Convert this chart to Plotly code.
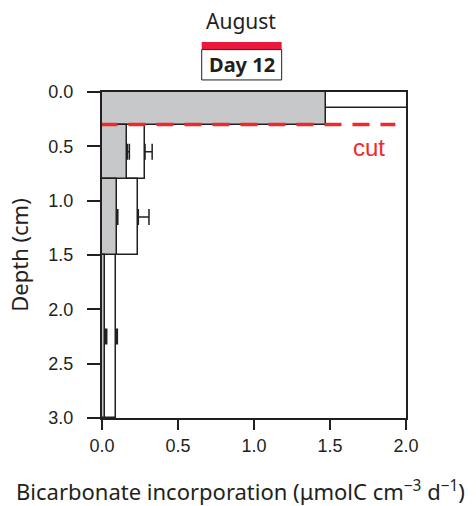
import numpy as np
import plotly.graph_objects as go

# ---- data ----
grey_top = [0.0, 0.3, 0.8, 1.5]
grey_bottom = [0.3, 0.8, 1.5, 3.0]
grey_values = [1.475, 0.167, 0.097, 0.022]
grey_err = [None, 0.013, 0.007, 0.009]

white_top = [0.0, 0.3, 0.8, 1.5]
white_bottom = [0.15, 0.8, 1.5, 3.0]
white_values = [2.1, 0.283, 0.239, 0.092]
white_err = [None, 0.047, 0.07, 0.009]

cut_depth = 0.3
x_ticks = [0.0, 0.5, 1.0, 1.5, 2.0]
y_ticks = [0.0, 0.5, 1.0, 1.5, 2.0, 2.5, 3.0]

month_label = "August"
day_label = "Day 12"
x_title = "Bicarbonate incorporation (μmolC cm<sup>−3</sup> d<sup>−1</sup>)"
y_title = "Depth (cm)"

DARK = "#231f20"
GREY = "#c7c8ca"
RED = "#ee2a2a"
CAL_RED = "#e8193c"


def centers(top, bottom):
    t = np.array(top); b = np.array(bottom)
    return (t + b) / 2, (b - t)


wc, ww = centers(white_top, white_bottom)
gc, gw = centers(grey_top, grey_bottom)

fig = go.Figure()


def add_series(values, c, w, err, fill):
    fig.add_trace(go.Bar(
        x=values, y=c, width=w, orientation="h",
        marker=dict(color=fill, line=dict(color=DARK, width=1.5)),
        showlegend=False, hoverinfo="skip",
    ))
    idx = [i for i, e in enumerate(err) if e is not None]
    fig.add_trace(go.Scatter(
        x=[values[i] for i in idx], y=[c[i] for i in idx], mode="markers",
        marker=dict(size=1, opacity=0),
        error_x=dict(type="data", array=[err[i] for i in idx], arrayminus=[0] * len(idx),
                     symmetric=False, color=DARK, thickness=1.5, width=8),
        showlegend=False, hoverinfo="skip",
    ))


add_series(white_values, wc, ww, white_err, "white")
add_series(grey_values, gc, gw, grey_err, GREY)

# cut line
fig.add_shape(type="line", xref="x", yref="y", x0=-0.01, x1=1.93, y0=cut_depth, y1=cut_depth,
              line=dict(color=RED, width=3.5, dash="17px,11px"))
fig.add_annotation(x=1.757, y=0.51, xref="x", yref="y", text="cut", showarrow=False,
                   font=dict(family="Liberation Sans, Arial", size=24, color=RED),
                   xanchor="center", yanchor="middle")

# header calendar
fig.add_annotation(x=0.457, y=1.218, xref="paper", yref="paper", text=month_label, showarrow=False,
                   font=dict(family="Noto Sans", size=21, color=DARK), xanchor="center", yanchor="middle")
fig.add_shape(type="rect", xref="paper", yref="paper", x0=0.328, x1=0.591, y0=1.130, y1=1.153,
              fillcolor=CAL_RED, line=dict(color=CAL_RED, width=0))
fig.add_shape(type="rect", xref="paper", yref="paper", x0=0.328, x1=0.591, y0=1.037, y1=1.130,
              fillcolor="white", line=dict(color=DARK, width=1))
fig.add_annotation(x=0.46, y=1.084, xref="paper", yref="paper", text="<b>" + day_label + "</b>",
                   showarrow=False, font=dict(family="Noto Sans", size=20, color=DARK),
                   xanchor="center", yanchor="middle")

# x-axis title (offset left like the reference)
fig.add_annotation(x=0.454, y=-0.222, xref="paper", yref="paper", text=x_title, showarrow=False,
                   font=dict(family="Noto Sans", size=22, color=DARK),
                   xanchor="center", yanchor="middle")

fig.update_layout(
    width=476, height=506,
    margin=dict(l=102, r=70, t=91.5, b=88),
    paper_bgcolor="white", plot_bgcolor="white",
    barmode="overlay", bargap=0,
    font=dict(family="Liberation Sans, Arial", color=DARK),
)
fig.update_xaxes(
    range=[0, 2.0], tickvals=x_ticks, ticktext=[f"{v:.1f}" for v in x_ticks],
    ticks="outside", ticklen=10, tickwidth=2, tickcolor=DARK,
    showline=True, linecolor=DARK, linewidth=2, mirror=True,
    showgrid=False, zeroline=False,
    tickfont=dict(family="Liberation Sans, Arial", size=18, color=DARK),
)
fig.update_yaxes(
    range=[3.0, 0.0], tickvals=y_ticks, ticktext=[f"{v:.1f}" for v in y_ticks],
    ticks="outside", ticklen=13, tickwidth=2, tickcolor=DARK,
    showline=True, linecolor=DARK, linewidth=2, mirror=True,
    showgrid=False, zeroline=False, ticklabelstandoff=10,
    tickfont=dict(family="Liberation Sans, Arial", size=18, color=DARK),
    title=dict(text=y_title, font=dict(family="Noto Sans", size=22, color=DARK), standoff=14),
)

fig.write_html("out.html")
